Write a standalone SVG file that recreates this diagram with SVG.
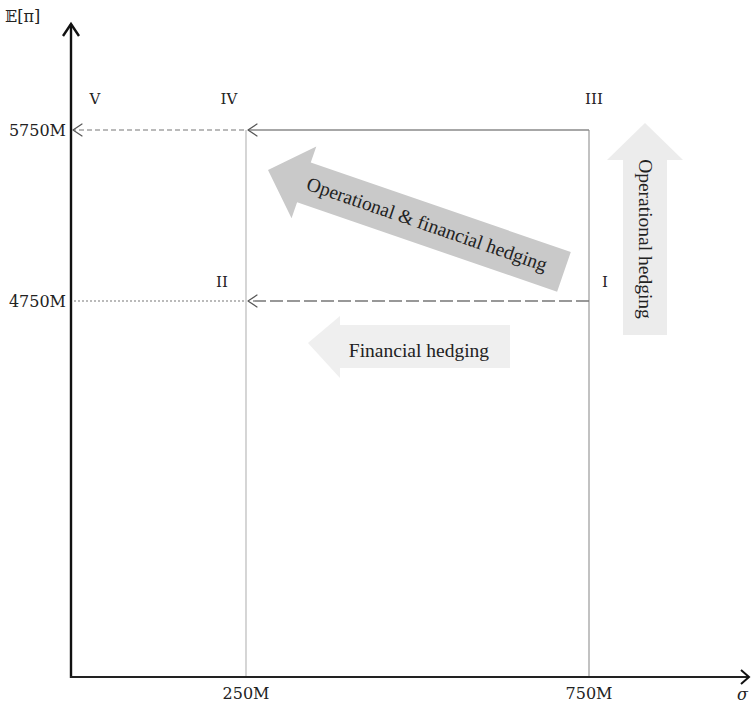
<svg xmlns="http://www.w3.org/2000/svg" width="751" height="705" viewBox="0 0 751 705">
  <style>
    .lbl { font-family: "DejaVu Serif", "Liberation Serif", serif; font-size: 16px; fill: #222; }
    .roman { font-family: "DejaVu Serif", "Liberation Serif", serif; font-size: 15px; fill: #222; text-anchor: middle; }
    .hedge { font-family: "Liberation Serif", "DejaVu Serif", serif; font-size: 19.5px; fill: #222; text-anchor: middle; }
    .chev { fill: none; stroke-width: 1.2; stroke-linecap: round; stroke-linejoin: round; }
  </style>
  <rect width="751" height="705" fill="#ffffff"/>

  <!-- hedging arrows (background) -->
  <g id="arrow-op-fin">
    <g transform="translate(268,170) rotate(19)">
      <polygon points="0,0 38,-38 38,-21 313,-21 313,21 38,21 38,38" fill="#c9c9c9"/>
      <text class="hedge" x="168" y="6">Operational &amp; financial hedging</text>
    </g>
  </g>
  <g id="arrow-operational">
    <polygon points="645,123 683,160 667,160 667,335 623,335 623,160 607,160" fill="#ececec"/>
    <text class="hedge" transform="translate(639,239) rotate(90)">Operational hedging</text>
  </g>
  <g id="arrow-financial">
    <polygon points="308,343 340,316 340,325 510,325 510,368 340,368 340,378" fill="#efefef"/>
    <text class="hedge" x="419" y="357">Financial hedging</text>
  </g>

  <!-- connectors -->
  <g id="connectors">
    <!-- verticals at 250M and 750M -->
    <line x1="246" y1="130" x2="246" y2="677" stroke="#c4c4c4" stroke-width="1.4"/>
    <line x1="589" y1="130" x2="589" y2="677" stroke="#a8a8a8" stroke-width="1.4"/>
    <!-- III -> IV solid -->
    <line x1="589" y1="130" x2="248" y2="130" stroke="#8a8a8a" stroke-width="1.6"/>
    <polyline class="chev" points="257,124 248,130 257,136" stroke="#555"/>
    <!-- IV -> V dashed -->
    <line x1="244" y1="130" x2="74" y2="130" stroke="#777" stroke-width="1.2" stroke-dasharray="5,3"/>
    <polyline class="chev" points="82,124 73,130 82,136" stroke="#555"/>
    <!-- I -> II long dashed -->
    <line x1="589" y1="301" x2="249" y2="301" stroke="#777" stroke-width="1.3" stroke-dasharray="13,4"/>
    <polyline class="chev" points="257,295 248,301 257,307" stroke="#555"/>
    <!-- II -> axis dotted -->
    <line x1="244" y1="301" x2="73" y2="301" stroke="#777" stroke-width="1.1" stroke-dasharray="2,2"/>
  </g>

  <!-- axes -->
  <g id="axes">
    <line x1="71" y1="678" x2="71" y2="24" stroke="#111" stroke-width="2.4"/>
    <polyline points="63,36 71,24 79,36" fill="none" stroke="#111" stroke-width="2.4"/>
    <line x1="70" y1="677" x2="748" y2="677" stroke="#222" stroke-width="2.2"/>
    <polyline points="741,670 749,677 741,684" fill="none" stroke="#111" stroke-width="2"/>
  </g>

  <!-- axis labels -->
  <g id="axis-labels">
    <text class="lbl" x="5" y="22" font-size="20">𝔼[π]</text>
    <text class="lbl" x="737" y="700" font-style="italic" font-size="16">σ</text>
    <text class="lbl" x="66" y="136" text-anchor="end" font-size="17">5750M</text>
    <text class="lbl" x="66" y="307" text-anchor="end" font-size="17">4750M</text>
    <text class="lbl" x="246" y="699" text-anchor="middle">250M</text>
    <text class="lbl" x="589" y="699" text-anchor="middle">750M</text>
  </g>

  <!-- point labels -->
  <g id="points">
    <text class="roman" x="95" y="104">V</text>
    <text class="roman" x="229" y="104">IV</text>
    <text class="roman" x="594" y="104">III</text>
    <text class="roman" x="222" y="287">II</text>
    <text class="roman" x="605" y="287">I</text>
  </g>
</svg>
